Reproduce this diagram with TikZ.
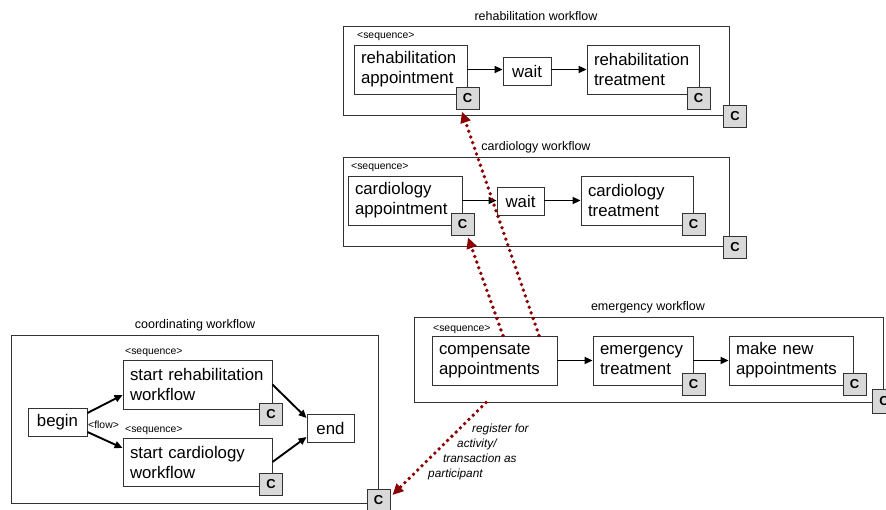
\documentclass[tikz,border=0pt]{standalone}
\usepackage{fontspec}
\setmainfont{Liberation Sans}
\usetikzlibrary{arrows.meta}
\definecolor{dotred}{RGB}{139,0,0}
\tikzset{
  outer/.style={draw=black!80, line width=1pt, inner sep=0pt},
  box/.style={draw=black!80, line width=0.9pt, fill=white, inner sep=0pt, align=center, font=\fontsize{16.8}{20}\selectfont},
  tbox/.style={box, align=left, inner xsep=7pt, inner ysep=0pt},
  cbox/.style={draw=black!80, line width=0.9pt, fill=black!15, minimum width=23pt, minimum height=22pt, inner sep=0pt, font=\fontsize{13}{13}\selectfont\bfseries},
  wtitle/.style={inner sep=0pt, font=\fontsize{12.5}{14}\selectfont},
  seqlbl/.style={inner sep=0pt, anchor=west, font=\fontsize{10.4}{12}\selectfont},
  flow/.style={draw=black, line width=1.9pt, -{Triangle[length=8pt,width=7pt]}},
  reddot/.style={draw=dotred, line width=3.8pt, line cap=round, dash pattern=on 0pt off 6pt, -{Triangle[length=11pt,width=10pt]}},
  note/.style={inner sep=0pt, align=left, font=\fontsize{11.8}{15}\selectfont\itshape}
}
\begin{document}
\begin{tikzpicture}[x=1pt,y=-1pt]
\useasboundingbox[fill=white] (0,0) rectangle (886,510);

% rehabilitation workflow
\node[outer, minimum width=386pt, minimum height=89pt] (ro) at (536,71.5) {};
\node[wtitle] (rtitle) at (536,16) {rehabilitation workflow};
\node[seqlbl] (rseq) at (357,37) {<sequence>};
\node[tbox, minimum width=113pt, minimum height=49pt, text width=99pt] (ra) at (410.5,69.5) {rehabilitation\\appointment};
\node[box, minimum width=48pt, minimum height=28pt] (rw) at (527,71) {wait};
\node[tbox, minimum width=112pt, minimum height=49pt, text width=98pt] (rt) at (643,69.5) {rehabilitation\\treatment};
\node[cbox] (raC) at (467.5,98.3) {C};
\node[cbox] (rtC) at (698.5,98.3) {C};
\node[cbox] (roC) at (735,116) {C};
\draw[flow] (ra.east) -- (ra.east -| rw.west);
\draw[flow] (rw.east |- ra.east) -- (rt.west);

% cardiology workflow
\node[outer, minimum width=386pt, minimum height=89pt] (cdo) at (536,202.5) {};
\node[wtitle] (cdtitle) at (536,147) {cardiology workflow};
\node[seqlbl] (cdseq) at (351,168) {<sequence>};
\node[tbox, minimum width=114pt, minimum height=49pt, text width=100pt] (ca) at (405,200.5) {cardiology\\appointment};
\node[box, minimum width=47pt, minimum height=28pt] (cw) at (520.5,201) {wait};
\node[tbox, minimum width=112pt, minimum height=49pt, text width=98pt] (ct) at (637,200.5) {cardiology\\treatment};
\node[cbox] (caC) at (462.5,224) {C};
\node[cbox] (ctC) at (693.5,224) {C};
\node[cbox] (cdoC) at (735,247) {C};
\draw[flow] (ca.east) -- (ca.east -| cw.west);
\draw[flow] (cw.east |- ca.east) -- (ct.west);

% emergency workflow
\node[outer, minimum width=469pt, minimum height=84pt] (eo) at (648.5,360) {};
\node[wtitle] (etitle) at (648,307) {emergency workflow};
\node[seqlbl] (eseq) at (433,330) {<sequence>};
\node[tbox, minimum width=125pt, minimum height=49pt, text width=111pt] (comp) at (494.5,360.5) {compensate\\appointments};
\node[tbox, minimum width=100pt, minimum height=49pt, text width=86pt] (et) at (643,360.5) {emergency\\treatment};
\node[tbox, minimum width=124pt, minimum height=49pt, text width=110pt] (mn) at (791,360.5) {make new\\appointments};
\node[cbox] (etC) at (693.5,384.5) {C};
\node[cbox] (mnC) at (854.5,384.5) {C};
\node[cbox, minimum width=24pt, minimum height=24pt] (eoC) at (884,401) {C};
\draw[flow] (comp.east) -- (et.west);
\draw[flow] (et.east) -- (mn.west);

% coordinating workflow
\node[outer, minimum width=367pt, minimum height=167pt] (cro) at (194.5,419.5) {};
\node[wtitle] (crtitle) at (195,325) {coordinating workflow};
\node[box, minimum width=59pt, minimum height=28pt] (begin) at (57.5,422) {begin};
\node[seqlbl] (flowlbl) at (88,425) {<flow>};
\node[seqlbl] (srseq) at (125,353) {<sequence>};
\node[seqlbl] (scseq) at (125,431) {<sequence>};
\node[tbox, minimum width=149pt, minimum height=49pt, text width=135pt] (sr) at (197.5,384.5) {start rehabilitation\\workflow};
\node[tbox, minimum width=149pt, minimum height=48pt, text width=135pt] (sc) at (197.5,462) {start cardiology\\workflow};
\node[box, minimum width=47pt, minimum height=28pt] (endn) at (330.5,428) {end};
\node[cbox] (srC) at (271,414) {C};
\node[cbox] (scC) at (271,484.5) {C};
\node[cbox] (croC) at (378.5,500.5) {C};
\draw[flow] ([yshift=9pt]begin.east) -- ([yshift=-10.5pt]sr.west);
\draw[flow] ([yshift=-10pt]begin.east) -- ([yshift=14pt]sc.west);
\draw[flow] (sr.east) -- ([yshift=10pt]endn.west);
\draw[flow] (sc.east) -- ([yshift=-9pt]endn.west);

% registration label
\node[note, anchor=north west] (lbl) at (428,424) {\hspace*{44pt}register for\\\hspace*{29pt}activity/\\\hspace*{15pt}transaction as\\participant};

% compensation / registration links
\draw[reddot] ([xshift=8.5pt]comp.north) -- ([xshift=5.5pt,yshift=-2pt]caC.south);
\draw[reddot] ([xshift=44.5pt]comp.north) -- ([xshift=-5.5pt,yshift=-2pt]raC.south);
\draw[reddot] ([xshift=-162.5pt]eo.south) -- ([xshift=2pt,yshift=5.5pt]croC.east);
\end{tikzpicture}
\end{document}
